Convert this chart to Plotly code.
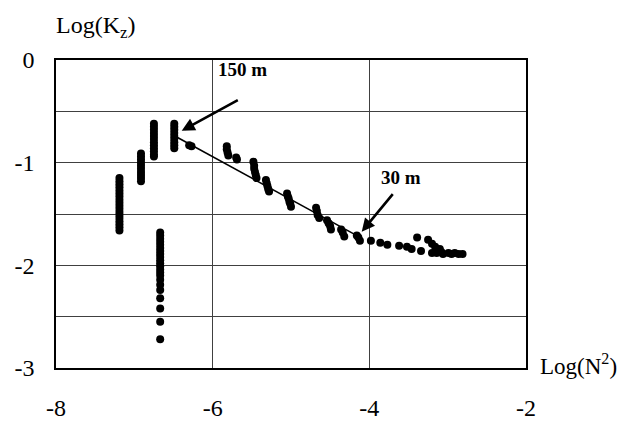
import plotly.graph_objects as go

# Measured points: Log(N^2) vs Log(Kz)
pts_x = (
    [-7.19] * 18
    + [-6.915] * 10
    + [-6.75] * 12
    + [-6.49] * 9
    + [-6.30, -6.27]
    + [-6.67] * 22
    + [-5.82, -5.82, -5.81, -5.80, -5.70, -5.69]
    + [-5.48, -5.47, -5.47, -5.46, -5.45, -5.44]
    + [-5.32, -5.31, -5.30, -5.29, -5.28]
    + [-5.05, -5.04, -5.03, -5.02, -5.01, -5.00]
    + [-4.68, -4.67, -4.66, -4.64]
    + [-4.54, -4.52, -4.50, -4.49]
    + [-4.36, -4.34, -4.32]
    + [-4.16, -4.14, -4.12]
    + [-3.98, -3.86, -3.77, -3.62, -3.52, -3.46, -3.39, -3.34,
       -3.25, -3.20, -3.16, -3.20, -3.14, -3.10, -3.08, -3.06,
       -2.99, -2.95, -2.91, -2.86, -2.81]
)
pts_y = (
    [-1.15, -1.18, -1.21, -1.24, -1.27, -1.30, -1.33, -1.36, -1.39,
     -1.42, -1.45, -1.48, -1.51, -1.54, -1.57, -1.60, -1.63, -1.66]
    + [-0.91, -0.94, -0.97, -1.00, -1.03, -1.06, -1.09, -1.12, -1.15, -1.18]
    + [-0.62, -0.65, -0.68, -0.71, -0.74, -0.77, -0.80, -0.83, -0.86,
       -0.89, -0.92, -0.94]
    + [-0.62, -0.65, -0.68, -0.71, -0.74, -0.77, -0.80, -0.83, -0.86]
    + [-0.83, -0.84]
    + [-1.68, -1.71, -1.74, -1.77, -1.80, -1.83, -1.86, -1.89, -1.92,
       -1.95, -1.98, -2.01, -2.04, -2.07, -2.10, -2.14, -2.19, -2.24,
       -2.32, -2.42, -2.55, -2.72]
    + [-0.84, -0.87, -0.90, -0.93, -0.95, -0.97]
    + [-0.99, -1.03, -1.06, -1.09, -1.12, -1.15]
    + [-1.17, -1.20, -1.23, -1.26, -1.28]
    + [-1.30, -1.33, -1.35, -1.38, -1.40, -1.43]
    + [-1.44, -1.47, -1.51, -1.54]
    + [-1.56, -1.59, -1.62, -1.65]
    + [-1.65, -1.68, -1.72]
    + [-1.71, -1.73, -1.76]
    + [-1.76, -1.78, -1.80, -1.81, -1.82, -1.84, -1.73, -1.86,
       -1.75, -1.79, -1.82, -1.88, -1.88, -1.84, -1.87, -1.89,
       -1.88, -1.89, -1.88, -1.89, -1.89]
)

# Trend line between the two labelled depths
trend_x = [-6.46, -4.10]
trend_y = [-0.75, -1.735]

# Axis ticks
x_ticks = [-8, -6, -4, -2]
x_labels = ["-8", "-6", "-4", "-2"]
y_ticks = [0, -0.5, -1, -1.5, -2, -2.5, -3]
y_labels = ["0", "", "-1", "", "-2", "", "-3"]

# Annotations (label, arrow head, arrow tail, label position)
ann_text = ["150 m", "30 m"]
ann_head = [(-6.395, -0.689), (-4.097, -1.672)]
ann_tail = [(-5.66, -0.383), (-3.685, -1.292)]
ann_pos = [(-5.62, -0.09), (-3.60, -1.14)]

FONT = "Liberation Serif, Times New Roman, serif"
TS = 24

fig = go.Figure()
fig.add_trace(go.Scatter(
    x=pts_x, y=pts_y, mode="markers",
    marker=dict(color="black", size=8),
    showlegend=False, hoverinfo="skip",
))
fig.add_trace(go.Scatter(
    x=trend_x, y=trend_y, mode="lines",
    line=dict(color="black", width=1.6),
    showlegend=False, hoverinfo="skip",
))

for t, h, tl, p in zip(ann_text, ann_head, ann_tail, ann_pos):
    fig.add_annotation(
        x=h[0], y=h[1], ax=tl[0], ay=tl[1], xref="x", yref="y",
        axref="x", ayref="y", text="", showarrow=True,
        arrowhead=2, arrowsize=1.0, arrowwidth=2.6, arrowcolor="black",
    )
    fig.add_annotation(
        x=p[0], y=p[1], xref="x", yref="y", text="<b>%s</b>" % t,
        showarrow=False, font=dict(family=FONT, size=19, color="black"),
    )

fig.add_annotation(
    x=0, y=1, xref="paper", yref="paper",
    text="Log(K<sub>z</sub>)", showarrow=False,
    xanchor="left", yanchor="bottom", yshift=16, xshift=-2,
    font=dict(family=FONT, size=TS, color="black"),
)
fig.add_annotation(
    x=1, y=0, xref="paper", yref="paper",
    text="Log(N<sup>2</sup>)", showarrow=False,
    xanchor="left", yanchor="middle", xshift=12, yshift=4,
    font=dict(family=FONT, size=TS - 1, color="black"),
)

# page body adds ~8px offset; compensate so the plot area spans x 56-526, y 60-368
fig.update_layout(
    width=622, height=415,
    margin=dict(l=48, r=104, t=52, b=55, autoexpand=False),
    paper_bgcolor="white", plot_bgcolor="white",
    font=dict(family=FONT, size=TS, color="black"),
)

fig.update_xaxes(
    range=[-8, -2], tickvals=x_ticks, ticktext=x_labels,
    showgrid=True, gridcolor="#404040", gridwidth=1,
    showline=True, linecolor="black", linewidth=1.6, mirror=True,
    zeroline=False, ticks="", ticklabelstandoff=17, automargin=False,
    tickfont=dict(family=FONT, size=TS, color="black"),
)
fig.update_yaxes(
    range=[-3, 0], tickvals=y_ticks, ticktext=y_labels,
    showgrid=True, gridcolor="#404040", gridwidth=1,
    showline=True, linecolor="black", linewidth=1.6, mirror=True,
    zeroline=False, ticks="", ticklabelstandoff=15, automargin=False,
    tickfont=dict(family=FONT, size=TS, color="black"),
)

fig.write_html("out.html")
